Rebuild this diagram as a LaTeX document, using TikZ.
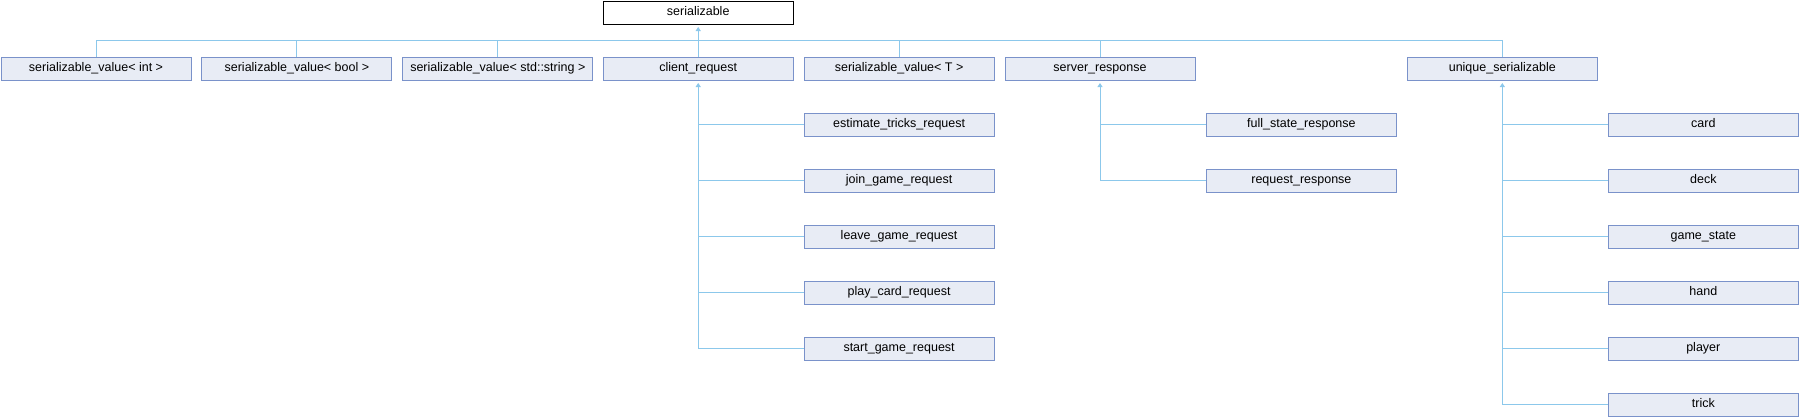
\documentclass[tikz,border=0pt]{standalone}
\usepackage{fontspec}
\setmainfont{Liberation Sans}
\usetikzlibrary{arrows.meta}
\definecolor{boxfill}{RGB}{232,236,245}
\definecolor{boxline}{RGB}{122,146,202}
\definecolor{conn}{RGB}{140,200,235}
\begin{document}
\begin{tikzpicture}[x=1pt,y=-1pt,
  cls/.style={draw=boxline,fill=boxfill,line width=1pt,minimum width=190pt,minimum height=23pt,inner sep=0pt,text height=8.6pt,text depth=3pt,font=\fontsize{12.5}{12.5}\selectfont,anchor=north west},
  rootcls/.style={cls,draw=black,fill=white},
  link/.style={draw=conn,line width=1pt},
  inh/.style={link,{Triangle[length=4pt,width=5pt]}-}
  ]
\useasboundingbox (0,0) rectangle (1799,416);
\coordinate (bus) at (0,40.5);
% root
\node[rootcls] (ser) at (602.7,0.5) {serializable};
% row 1
\node[cls] (svint)  at (0.5,56.5) {serializable\_value< int >};
\node[cls] (svbool) at (201.4,56.5) {serializable\_value< bool >};
\node[cls] (svstr)  at (402.3,56.5) {serializable\_value< std::string >};
\node[cls] (cr)     at (602.7,56.5) {client\_request};
\node[cls] (svt)    at (803.6,56.5) {serializable\_value< T >};
\node[cls] (sr)     at (1004.5,56.5) {server\_response};
\node[cls] (us)     at (1406.8,56.5) {unique\_serializable};
% client_request children
\node[cls] (est)   at (803.6,112.5) {estimate\_tricks\_request};
\node[cls] (join)  at (803.6,168.5) {join\_game\_request};
\node[cls] (leave) at (803.6,224.5) {leave\_game\_request};
\node[cls] (play)  at (803.6,280.5) {play\_card\_request};
\node[cls] (start) at (803.6,336.5) {start\_game\_request};
% server_response children
\node[cls] (full) at (1205.9,112.5) {full\_state\_response};
\node[cls] (req)  at (1205.9,168.5) {request\_response};
% unique_serializable children
\node[cls] (card)  at (1607.8,112.5) {card};
\node[cls] (deck)  at (1607.8,168.5) {deck};
\node[cls] (gs)    at (1607.8,224.5) {game\_state};
\node[cls] (hand)  at (1607.8,280.5) {hand};
\node[cls] (pl)    at (1607.8,336.5) {player};
\node[cls] (trick) at (1607.8,392.5) {trick};
% top level inheritance
\draw[inh] ([yshift=-2.5pt]ser.south) -- (cr.north);
\draw[link] (svint.north) |- (us.north |- bus) -- (us.north);
\draw[link] (svbool.north) -- (svbool.north |- bus);
\draw[link] (svstr.north) -- (svstr.north |- bus);
\draw[link] (svt.north) -- (svt.north |- bus);
\draw[link] (sr.north) -- (sr.north |- bus);
% client_request
\draw[inh] ([yshift=-2.5pt]cr.south) |- (start.west);
\foreach \c in {est,join,leave,play} \draw[link] (cr.south |- \c.west) -- (\c.west);
% server_response
\draw[inh] ([yshift=-2.5pt]sr.south) |- (req.west);
\draw[link] (sr.south |- full.west) -- (full.west);
% unique_serializable
\draw[inh] ([yshift=-2.5pt]us.south) |- (trick.west);
\foreach \c in {card,deck,gs,hand,pl} \draw[link] (us.south |- \c.west) -- (\c.west);
\end{tikzpicture}
\end{document}
